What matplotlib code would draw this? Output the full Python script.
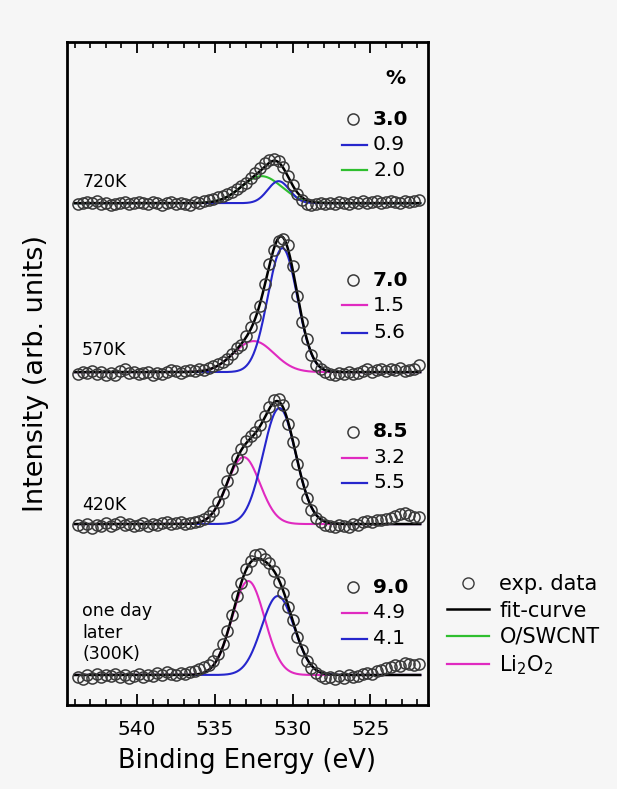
import numpy as np
import matplotlib.pyplot as plt
from matplotlib.lines import Line2D

# %% ---- data ----
# binding energy grid (eV), same for all spectra
energy = np.linspace(543.8, 521.9, 74)

# experimental O 1s intensities above each baseline (arb. units)
exp_720K = [-1, 0, 1, 0, 2, -1, 0, -2, -1, 0, 1, -1, 0, 1, 0, -1, 1, 0, -2, 0,
            1, -1, 0, -1, -2, 1, 0, 2, 3, 4, 6, 7, 9, 11, 14, 17, 20, 25, 30, 35,
            40, 43, 44, 42, 36, 27, 18, 9, 3, -1, -2, -1, 0, -1, 0, -1, 1, 0, -1, 1,
            0, 2, 0, 1, 2, 0, 1, 2, 1, 0, 2, 1, 2, 3]
exp_570K = [-2, 0, -1, 1, -2, 0, -3, -1, -3, 1, 3, -1, 0, -2, -1, 0, -3, -1, -2, 0,
            2, 1, -1, 1, 2, 1, 3, 2, 4, 6, 8, 10, 13, 18, 24, 27, 36, 45, 55, 66,
            88, 108, 122, 131, 133, 127, 106, 76, 50, 33, 17, 7, 3, 0, -2, -3, -1, -2, 0, -2,
            -1, 1, 3, 0, 2, 3, 1, 3, 2, 4, 1, 2, 3, 7]
exp_420K = [-1, -3, 0, -4, -1, -2, 1, -2, 0, 2, -1, 0, -2, -1, 1, -2, 0, -1, 1, 2,
            0, 1, 2, 0, 1, 2, 3, 5, 8, 13, 22, 31, 43, 55, 66, 75, 83, 88, 92, 99,
            108, 117, 124, 125, 119, 100, 82, 60, 41, 26, 14, 6, 2, -1, -2, -3, -1, -2, -3, 0,
            -1, 2, 3, 2, 4, 4, 5, 6, 8, 10, 11, 9, 7, 7]
exp_300K = [-2, -4, 0, -3, 1, -2, 0, -1, 1, -2, 0, -3, -1, 1, -2, 0, -1, 2, 0, 3,
            1, 0, 2, 1, 3, 4, 6, 8, 10, 14, 21, 31, 44, 60, 79, 92, 106, 114, 120, 121,
            116, 112, 104, 93, 82, 68, 55, 38, 25, 14, 7, 2, -1, -3, -2, -4, -1, -3, 0, -2,
            -1, 1, 2, 1, 4, 5, 7, 8, 10, 9, 12, 11, 10, 11]

spectra = [exp_720K, exp_570K, exp_420K, exp_300K]
offsets = [502, 333, 181, 30]
labels = ['720K', '570K', '420K', 'one day\nlater\n(300K)']

# fitted components per spectrum: (kind, center eV, height, width eV)
components = [
    [('O/SWCNT', 532.0, 27, 1.3), ('SWCNT-ox', 530.9, 22, 0.7)],
    [('Li2O2', 532.5, 31, 1.3), ('SWCNT-ox', 530.65, 124, 0.95)],
    [('Li2O2', 533.15, 67, 1.05), ('SWCNT-ox', 530.85, 116, 1.05)],
    [('Li2O2', 532.85, 94, 1.05), ('SWCNT-ox', 530.95, 79, 1.05)],
]

# percentages shown in each panel (total, comp1, comp2)
percent = [['3.0', '0.9', '2.0'], ['7.0', '1.5', '5.6'],
           ['8.5', '3.2', '5.5'], ['9.0', '4.9', '4.1']]
percent_colors = [['blue', 'green'], ['magenta', 'blue'],
                  ['magenta', 'blue'], ['magenta', 'blue']]

colors = {'O/SWCNT': '#2fbf2f', 'Li2O2': '#e02ac0', 'SWCNT-ox': '#2626cc',
          'green': '#2fbf2f', 'magenta': '#e02ac0', 'blue': '#2626cc'}

# %% ---- plot ----
bg = '#f6f6f6'
fig = plt.figure(figsize=(6.17, 7.89), dpi=100, facecolor=bg)
ax = fig.add_axes([0.1086, 0.1065, 0.585, 0.840], facecolor=bg)

E = np.linspace(544.0, 521.8, 600)
for i, data in enumerate(spectra):
    off = offsets[i]
    fit = np.zeros_like(E)
    for kind, c, h, w in components[i]:
        comp = h * np.exp(-(E - c) ** 2 / (2 * w ** 2))
        fit += comp
        ax.plot(E, off + comp, color=colors[kind], lw=1.5, zorder=2)
    ax.plot(E, off + fit, color='black', lw=1.8, zorder=3)
    ax.plot(energy, off + np.array(data), 'o', mfc='none', mec='#3a3a3a',
            ms=8, mew=1.1, zorder=4)

ax.set_xlim(544.5, 521.3)
ax.set_ylim(0, 663)
ax.set_yticks([])
ax.set_xticks([540, 535, 530, 525])
ax.set_xticks(np.arange(522, 545, 1), minor=True)
ax.tick_params(axis='x', which='both', direction='in', top=True, bottom=True,
               labelsize=14.5, pad=11)
ax.tick_params(axis='x', which='major', length=8, width=1.3)
ax.tick_params(axis='x', which='minor', length=4, width=1.2)
for s in ax.spines.values():
    s.set_linewidth(2.0)
ax.set_xlabel('Binding Energy (eV)', fontsize=18.5, labelpad=6)
ax.set_ylabel('Intensity (arb. units)', fontsize=19.5, labelpad=13)

# percentage blocks inside the panels (axes fraction layout)
rows_y = [[0.884, 0.845, 0.807], [0.641, 0.603, 0.562],
          [0.412, 0.373, 0.335], [0.178, 0.139, 0.100]]
label_y = [0.789, 0.535, 0.302, 0.109]
ax.text(0.909, 0.946, '%', transform=ax.transAxes, fontsize=14.5,
        fontweight='bold', ha='center', va='center')
for i in range(4):
    ys = rows_y[i]
    ax.plot([0.792], [ys[0]], 'o', mfc='none', mec='#3a3a3a', ms=8, mew=1.1,
            transform=ax.transAxes)
    ax.text(0.848, ys[0], percent[i][0], transform=ax.transAxes, fontsize=14.5,
            fontweight='bold', va='center')
    for j in range(2):
        ax.plot([0.762, 0.831], [ys[j + 1]] * 2, color=colors[percent_colors[i][j]],
                lw=1.6, transform=ax.transAxes)
        ax.text(0.848, ys[j + 1], percent[i][j + 1], transform=ax.transAxes,
                fontsize=14.5, va='center')
    ax.text(0.042, label_y[i], labels[i], transform=ax.transAxes, fontsize=12.5,
            va='center', ha='left', linespacing=1.25)

# legend outside on the right
handles = [Line2D([], [], marker='o', ls='none', mfc='none', mec='#3a3a3a', ms=8),
           Line2D([], [], color='black', lw=1.8),
           Line2D([], [], color=colors['O/SWCNT'], lw=1.6),
           Line2D([], [], color=colors['Li2O2'], lw=1.6)]
fig.legend(handles, ['exp. data', 'fit-curve', 'O/SWCNT', 'Li$_2$O$_2$'],
           loc='upper left', bbox_to_anchor=(0.725, 0.272), frameon=False,
           fontsize=15, handlelength=2.0, handletextpad=0.5, labelspacing=0.3,
           borderpad=0, borderaxespad=0)

fig.savefig('out.png', dpi=100, facecolor=bg)
